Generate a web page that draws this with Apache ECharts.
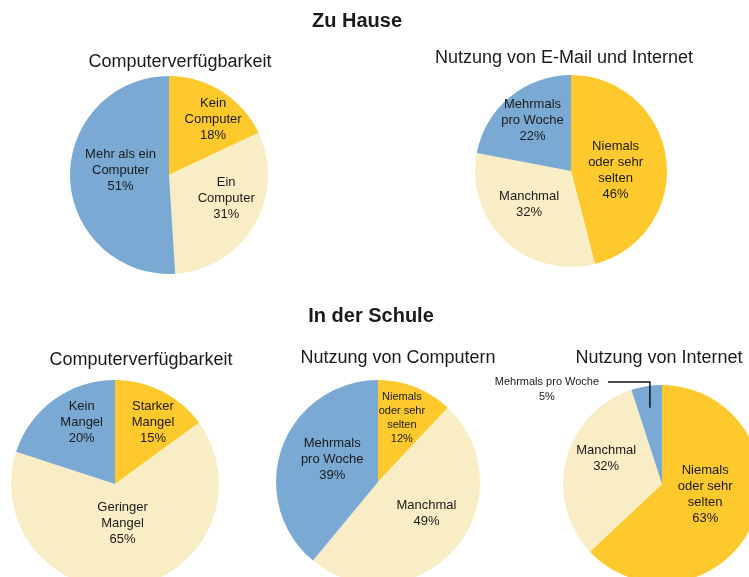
<!DOCTYPE html>
<html>
<head>
<meta charset="utf-8">
<script src="https://cdn.jsdelivr.net/npm/echarts@6/dist/echarts.min.js"></script>
<style>
html, body { margin: 0; padding: 0; background: #fff; }
#main { width: 749px; height: 577px; }
</style>
</head>
<body>
<div id="main"></div>
<script>
// Zu Hause
var homeAvailNames = ['Kein\nComputer', 'Ein\nComputer', 'Mehr als ein\nComputer'];
var homeAvailValues = [18, 31, 51];
var homeUseNames = ['Niemals\noder sehr\nselten', 'Manchmal', 'Mehrmals\npro Woche'];
var homeUseValues = [46, 32, 22];

// In der Schule
var schoolAvailNames = ['Starker\nMangel', 'Geringer\nMangel', 'Kein\nMangel'];
var schoolAvailValues = [15, 65, 20];
var schoolCompNames = ['Niemals\noder sehr\nselten', 'Manchmal', 'Mehrmals\npro Woche'];
var schoolCompValues = [12, 49, 39];
var schoolNetNames = ['Niemals\noder sehr\nselten', 'Manchmal', 'Mehrmals pro Woche'];
var schoolNetValues = [63, 32, 5];

var BLUE = '#7aaad4', YELLOW = '#fec92c', BEIGE = '#f9edc6';
var FONT = 'Liberation Sans, Arial, sans-serif';

var myChart = echarts.init(document.getElementById('main'));

// Lage der Kreise und Feinjustierung der Beschriftung
var pies = [
  { names: homeAvailNames, values: homeAvailValues, colors: [YELLOW, BEIGE, BLUE],
    center: [169, 175], r: 99, offsets: [[16, -11], [12, -3], [4, -6]] },
  { names: homeUseNames, values: homeUseValues, colors: [YELLOW, BEIGE, BLUE],
    center: [571, 171], r: 96, offsets: [[-6, 6], [-7, -4], [-6, -11]] },
  { names: schoolAvailNames, values: schoolAvailValues, colors: [YELLOW, BEIGE, BLUE],
    center: [115, 484], r: 104, offsets: [[13, -13], [-1, -15], [-1, -17]] },
  { names: schoolCompNames, values: schoolCompValues, colors: [YELLOW, BEIGE, BLUE],
    center: [378, 482], r: 102, offsets: [[4, -14], [8, -4], [5, -4]] },
  { names: schoolNetNames, values: schoolNetValues, colors: [YELLOW, BEIGE, BLUE],
    center: [662, 484], r: 99, offsets: [[-5, -10], [-5, -13], [0, 0]] }
];

var series = pies.map(function (p, k) {
  return {
    type: 'pie',
    center: p.center,
    radius: [0, p.r],
    startAngle: 90,
    silent: true,
    animation: false,
    itemStyle: { borderWidth: 0 },
    label: {
      position: 'inside',
      formatter: '{b}\n{c}%',
      color: '#1a1a1a',
      textBorderWidth: 0,
      fontFamily: FONT,
      fontSize: 13,
      lineHeight: 16
    },
    labelLine: { show: false },
    data: p.values.map(function (v, i) {
      var item = {
        name: p.names[i],
        value: v,
        itemStyle: { color: p.colors[i] },
        label: { offset: p.offsets[i] }
      };
      if (k === 3 && i === 0) {
        item.label = { offset: p.offsets[i], fontSize: 11, lineHeight: 14 };
      }
      if (k === 4 && i === 2) {
        item.label = { show: false };
      }
      return item;
    })
  };
});

// Hinweislinie für den kleinen Sektor "Mehrmals pro Woche 5%"
var net = pies[4];
var total = net.values.reduce(function (a, b) { return a + b; }, 0);
var before = net.values[0] + net.values[1];
var midAngle = (before + net.values[2] / 2) / total * 2 * Math.PI;
var px = net.center[0] + 0.78 * net.r * Math.sin(midAngle);
var py = net.center[1] - 0.78 * net.r * Math.cos(midAngle);
var topY = net.center[1] - net.r - 3;
var leftX = px - 42;

var titleStyle = { fontFamily: FONT, fontSize: 18, fontWeight: 'normal', color: '#1a1a1a' };
var headStyle = { fontFamily: FONT, fontSize: 20, fontWeight: 'bold', color: '#1a1a1a' };

var option = {
  backgroundColor: '#fff',
  title: [
    { text: 'Zu Hause', left: 352, top: 6, textAlign: 'center', textStyle: headStyle },
    { text: 'Computerverfügbarkeit', left: 175, top: 48, textAlign: 'center', textStyle: titleStyle },
    { text: 'Nutzung von E-Mail und Internet', left: 559, top: 44, textAlign: 'center', textStyle: titleStyle },
    { text: 'In der Schule', left: 366, top: 301, textAlign: 'center', textStyle: headStyle },
    { text: 'Computerverfügbarkeit', left: 136, top: 346, textAlign: 'center', textStyle: titleStyle },
    { text: 'Nutzung von Computern', left: 393, top: 344, textAlign: 'center', textStyle: titleStyle },
    { text: 'Nutzung von Internet', left: 654, top: 344, textAlign: 'center', textStyle: titleStyle }
  ],
  graphic: [
    {
      type: 'polyline',
      z: 100,
      shape: { points: [[px, py], [px, topY], [leftX, topY]] },
      style: { stroke: '#111', lineWidth: 1.5, fill: null }
    },
    {
      type: 'text',
      z: 100,
      x: leftX - 61,
      y: topY + 7,
      style: {
        text: net.names[2] + '\n' + net.values[2] + '%',
        fontFamily: FONT,
        fontSize: 11,
        lineHeight: 15,
        fill: '#1a1a1a',
        textAlign: 'center',
        textVerticalAlign: 'middle'
      }
    }
  ],
  series: series
};

myChart.setOption(option);
window.onresize = function () {
  myChart.resize();
};
</script>
</body>
</html>
